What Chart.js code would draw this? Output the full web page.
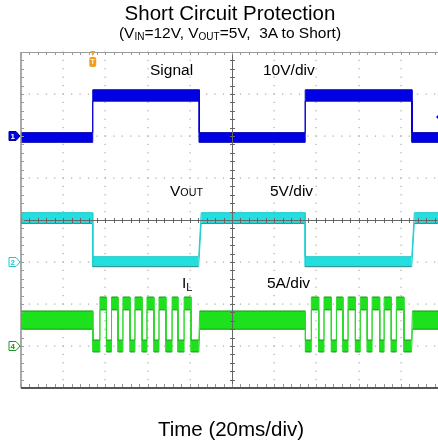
<!DOCTYPE html>
<html>
<head>
<meta charset="utf-8">
<script src="https://cdn.jsdelivr.net/npm/chart.js@4.4.1/dist/chart.umd.min.js"></script>
<style>
html,body{margin:0;padding:0;background:#fff;overflow:hidden;width:438px;height:448px;}
#wrap{position:absolute;left:0;top:0;width:460px;height:448px;}
.t{position:absolute;font-family:"Liberation Sans",Arial,Helvetica,sans-serif;color:#000;white-space:nowrap;line-height:1;}
.sm{font-size:10px;}
</style>
</head>
<body>
<div id="wrap"><canvas id="c"></canvas></div>
<div class="t" style="left:0;width:460px;text-align:center;top:2.6px;font-size:20.5px;">Short Circuit Protection</div>
<div class="t" style="left:0;width:460px;text-align:center;top:24.6px;font-size:15.5px;">(V<span class="sm" style="vertical-align:-2px">IN</span>=12V, V<span class="sm" style="vertical-align:-2px">OUT</span>=5V,&nbsp; 3A to Short)</div>
<div class="t" style="left:0;width:462px;text-align:center;top:419.3px;font-size:20.5px;">Time (20ms/div)</div>
<div class="t" style="left:150px;top:61.9px;font-size:15.5px;">Signal</div>
<div class="t" style="left:263px;top:61.9px;font-size:15.5px;">10V/div</div>
<div class="t" style="left:170px;top:182.9px;font-size:15.5px;">V<span style="font-size:10.7px">OUT</span></div>
<div class="t" style="left:270px;top:182.9px;font-size:15.5px;">5V/div</div>
<div class="t" style="left:182px;top:275.2px;font-size:15.5px;">I<span style="font-size:11px;vertical-align:-2.5px">L</span></div>
<div class="t" style="left:267px;top:275.2px;font-size:15.5px;">5A/div</div>
<script>
// ---- data (time in ms, 20 ms/div) ----
const timeRange = [0, 200];
// CH1 Signal (V, 10V/div): segment boundaries and state per segment
const sigT = [0, 34.0, 84.5, 134.7, 185.3, 200];
const sigState = ['L', 'H', 'L', 'H', 'L'];
const sigLow = [-1.5, 0.8];   // noise band [bottom, top]
const sigHigh = [8.3, 11.0];
const sigTrigLevel = 4.5;
// CH2 VOUT (V, 5V/div)
const voutT = [0, 34.0, 84.2, 134.7, 185.2, 200];
const voutState = ['H', 'L', 'H', 'L', 'H'];
const voutRamp = [0, 0, 1.2, 0, 1.2, 0];
const voutLow = [-0.56, 0.63];
const voutHigh = [4.6, 5.87];
// CH4 IL (A, 5A/div): normal 3A, hiccup pulses during short
const ilT = [0, 34.1, 37.4, 40.5, 42.9, 46.0, 48.3, 51.7, 54.0, 57.4, 59.7, 63.0, 65.4, 68.7, 71.6, 74.4, 77.3, 80.6, 84.3,
             134.8, 137.6, 141.1, 143.6, 147.1, 149.5, 152.6, 155.0, 158.5, 160.8, 164.1, 166.4, 170.0, 172.1, 175.5, 177.9, 181.5, 185.1, 200];
const ilState = ['N', 'L', 'H', 'L', 'H', 'L', 'H', 'L', 'H', 'L', 'H', 'L', 'H', 'L', 'H', 'L', 'H', 'L', 'N',
                 'L', 'H', 'L', 'H', 'L', 'H', 'L', 'H', 'L', 'H', 'L', 'H', 'L', 'H', 'L', 'H', 'L', 'N'];
const ilNormal = [2.0, 4.17];
const ilHigh = [4.3, 5.83];
const ilLow = [-0.71, 0.71];
const trigTime = 34.0;

function buildBands(T, S, bands, ramp) {
  const up = [], lo = [];
  for (let i = 0; i < S.length; i++) {
    const t0 = T[i] + (ramp ? ramp[i] : 0);
    const t1 = T[i + 1];
    const b = bands[S[i]];
    up.push({x: t0, y: b[1]}, {x: t1, y: b[1]});
    lo.push({x: t0, y: b[0]}, {x: t1, y: b[0]});
  }
  return {up, lo};
}
const sig = buildBands(sigT, sigState, {L: sigLow, H: sigHigh});
const vout = buildBands(voutT, voutState, {L: voutLow, H: voutHigh}, voutRamp);
const ilRamp = ilT.map((t, i) => (ilState[i] === 'N' && i > 0) ? 0.4 : 0);
const il = buildBands(ilT, ilState, {N: ilNormal, H: ilHigh, L: ilLow}, ilRamp);

const BLUE = '#0000e4', CYAN = '#22dede', GREEN = '#1ee11e';

function band(data, axis, color, edge, trans, isLower) {
  return {
    data, yAxisID: axis, xAxisID: 'x',
    borderColor: edge, backgroundColor: color, borderWidth: 1,
    segment: {borderColor: c => (c.p0.parsed.y === c.p1.parsed.y ? edge : trans)},
    pointRadius: 0, tension: 0, fill: isLower ? '-1' : false,
  };
}

const scopePlugin = {
  id: 'scope',
  beforeDatasetsDraw(chart) {
    const {ctx, scales: {x, y}} = chart;
    ctx.save();
    ctx.fillStyle = '#a9a9a9';
    for (let t = timeRange[0] + 20; t < timeRange[1]; t += 20) {
      if (t === 100) continue;
      const px = x.getPixelForValue(t);
      for (let k = -20; k <= 20; k++) {
        const py = y.getPixelForValue(k / 5);
        ctx.fillRect(Math.round(px) - 0.5, py - 0.6, 1.2, 1.2);
      }
    }
    for (let d = -3; d <= 3; d++) {
      if (d === 0) continue;
      const py = y.getPixelForValue(d);
      for (let t = timeRange[0]; t <= timeRange[1]; t += 4) {
        const px = x.getPixelForValue(t);
        ctx.fillRect(px - 0.6, Math.round(py) - 0.5, 1.2, 1.2);
      }
    }
    ctx.restore();
  },
  afterDatasetsDraw(chart) {
    const {ctx, chartArea: a, scales: {x, y, y1, y2, y4}} = chart;
    ctx.save();
    // center cross
    ctx.strokeStyle = '#666';
    ctx.lineWidth = 1;
    const cx = Math.round(x.getPixelForValue(100)) + 0.5;
    const cy = Math.round(y.getPixelForValue(0)) + 0.5;
    ctx.beginPath();
    ctx.moveTo(cx, a.top); ctx.lineTo(cx, a.bottom);
    ctx.moveTo(a.left, cy); ctx.lineTo(a.right, cy);
    for (let k = -20; k <= 20; k++) {
      const py = Math.round(y.getPixelForValue(k / 5)) + 0.5;
      ctx.moveTo(cx - 2.5, py); ctx.lineTo(cx + 2.5, py);
    }
    for (let t = 0; t <= 200; t += 4) {
      const px = Math.round(x.getPixelForValue(t)) + 0.5;
      ctx.moveTo(px, cy - 2.5); ctx.lineTo(px, cy + 2.5);
    }
    ctx.stroke();
    // frame
    ctx.strokeStyle = '#8c8c8c';
    ctx.lineWidth = 1.5;
    ctx.beginPath();
    ctx.moveTo(a.left, a.top); ctx.lineTo(a.left, a.bottom);
    ctx.stroke();
    ctx.lineWidth = 1;
    ctx.strokeStyle = '#9a9a9a';
    ctx.beginPath();
    ctx.moveTo(a.left, a.top + 0.5); ctx.lineTo(a.right, a.top + 0.5);
    for (let k = -20; k <= 20; k++) {
      const py = Math.round(y.getPixelForValue(k / 5)) + 0.5;
      ctx.moveTo(a.left, py); ctx.lineTo(a.left + 3, py);
    }
    for (let t = 0; t <= 200; t += 4) {
      const px = Math.round(x.getPixelForValue(t)) + 0.5;
      ctx.moveTo(px, a.top); ctx.lineTo(px, a.top + 3);
      ctx.moveTo(px, a.bottom - 4); ctx.lineTo(px, a.bottom - 1);
    }
    ctx.stroke();
    ctx.strokeStyle = '#555';
    ctx.lineWidth = 2;
    ctx.beginPath();
    ctx.moveTo(a.left, a.bottom); ctx.lineTo(a.right, a.bottom);
    ctx.stroke();
    // channel ground markers
    const marker = (axis, label, fillC, strokeC, textC) => {
      const py = axis.getPixelForValue(0);
      ctx.beginPath();
      ctx.moveTo(9, py - 4.5); ctx.lineTo(16, py - 4.5); ctx.lineTo(20, py);
      ctx.lineTo(16, py + 4.5); ctx.lineTo(9, py + 4.5); ctx.closePath();
      ctx.fillStyle = fillC; ctx.fill();
      ctx.lineWidth = 1; ctx.strokeStyle = strokeC; ctx.stroke();
      ctx.fillStyle = textC;
      ctx.font = 'bold 8px "Liberation Sans", Arial, sans-serif';
      ctx.textAlign = 'center'; ctx.textBaseline = 'middle';
      ctx.fillText(label, 12.8, py + 0.5);
    };
    marker(y1, '1', BLUE, '#00008a', '#ffffff');
    marker(y2, '2', '#ffffff', '#20c8c8', '#20c8c8');
    marker(y4, '4', '#ffffff', '#1a9a1a', '#1a9a1a');
    // trigger position marker (top)
    const tx = x.getPixelForValue(trigTime);
    ctx.fillStyle = '#f0a020';
    ctx.beginPath();
    ctx.moveTo(tx - 2.5, a.top - 1); ctx.lineTo(tx + 2.5, a.top - 1); ctx.lineTo(tx, a.top + 4); ctx.closePath();
    ctx.fill();
    ctx.beginPath();
    ctx.roundRect(tx - 3.5, a.top + 5, 7, 10, 2);
    ctx.fill();
    ctx.fillStyle = '#fff3d0';
    ctx.font = 'bold 7px "Liberation Sans", Arial, sans-serif';
    ctx.textAlign = 'center'; ctx.textBaseline = 'middle';
    ctx.fillText('T', tx, a.top + 10.5);
    // trigger level marker (right edge)
    const ly = y1.getPixelForValue(sigTrigLevel);
    ctx.fillStyle = BLUE;
    ctx.beginPath();
    ctx.moveTo(a.right - 7, ly); ctx.lineTo(a.right - 3, ly - 4); ctx.lineTo(a.right, ly - 4);
    ctx.lineTo(a.right, ly + 4); ctx.lineTo(a.right - 3, ly + 4); ctx.closePath();
    ctx.fill();
    ctx.restore();
  }
};

new Chart(document.getElementById('c'), {
  type: 'line',
  data: {
    datasets: [
      band(sig.up, 'y1', BLUE, '#0000a8', '#0000d0', false),
      band(sig.lo, 'y1', BLUE, '#0000a8', '#0000d0', true),
      band(vout.up, 'y2', CYAN, '#1ccaca', '#22d0d0', false),
      band(vout.lo, 'y2', CYAN, '#2c8585', '#22d0d0', true),
      band(il.up, 'y4', GREEN, '#139a13', '#2fd82f', false),
      band(il.lo, 'y4', GREEN, '#139a13', '#2fd82f', true),
    ]
  },
  options: {
    responsive: true,
    maintainAspectRatio: false,
    animation: false,
    events: [],
    layout: {padding: {left: 21, top: 52, right: 17, bottom: 60}},
    plugins: {legend: {display: false}, tooltip: {enabled: false}},
    scales: {
      x: {type: 'linear', min: timeRange[0], max: timeRange[1], display: false},
      y: {type: 'linear', min: -4, max: 4, display: false},
      y1: {type: 'linear', min: -60, max: 20, display: false},
      y2: {type: 'linear', min: -15, max: 25, display: false},
      y4: {type: 'linear', min: -5, max: 35, display: false},
    }
  },
  plugins: [scopePlugin]
});
</script>
</body>
</html>
